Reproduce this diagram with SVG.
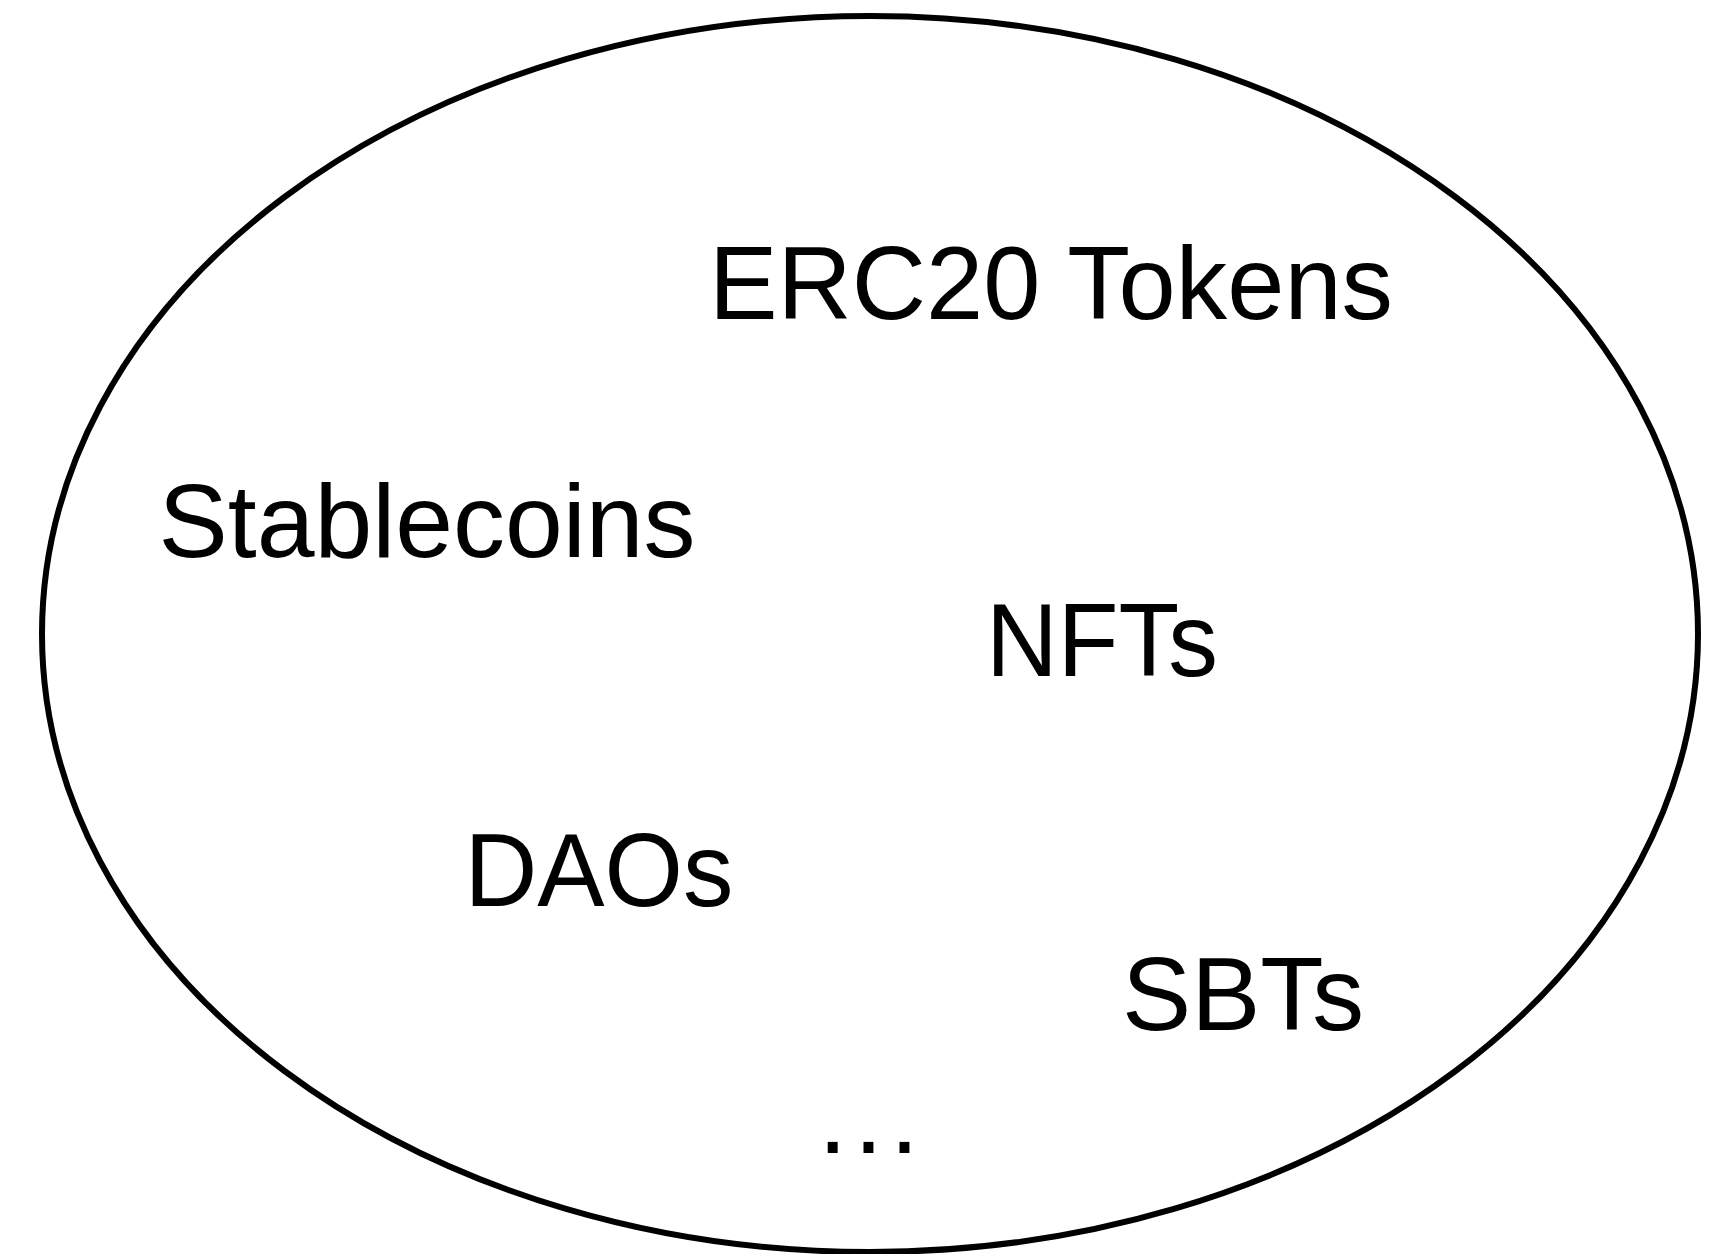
<svg xmlns="http://www.w3.org/2000/svg" width="1731" height="1254" viewBox="0 0 1731 1254">
  <style>
    .outline { fill: none; stroke: #000; stroke-width: 6; }
    .label { font-family: "Liberation Sans", Arial, Helvetica, sans-serif; font-size: 104px; fill: #000; text-anchor: middle; }
  </style>
  <rect width="1731" height="1254" fill="#fff"/>
  <g id="boundary">
    <ellipse class="outline" cx="870" cy="634" rx="828" ry="618"/>
  </g>
  <g id="node-erc20">
    <text class="label" x="1051" y="319" textLength="684" lengthAdjust="spacingAndGlyphs">ERC20 Tokens</text>
  </g>
  <g id="node-stablecoins">
    <text class="label" x="427" y="557" textLength="537" lengthAdjust="spacingAndGlyphs">Stablecoins</text>
  </g>
  <g id="node-nfts">
    <text class="label" x="1102" y="676" textLength="232" lengthAdjust="spacingAndGlyphs">NFTs</text>
  </g>
  <g id="node-daos">
    <text class="label" x="599" y="906" textLength="269" lengthAdjust="spacingAndGlyphs">DAOs</text>
  </g>
  <g id="node-sbts">
    <text class="label" x="1243" y="1030" textLength="242" lengthAdjust="spacingAndGlyphs">SBTs</text>
  </g>
  <g id="node-more">
    <text class="label" x="872" y="1153" letter-spacing="7">...</text>
  </g>
  <g id="connectors"></g>
</svg>
